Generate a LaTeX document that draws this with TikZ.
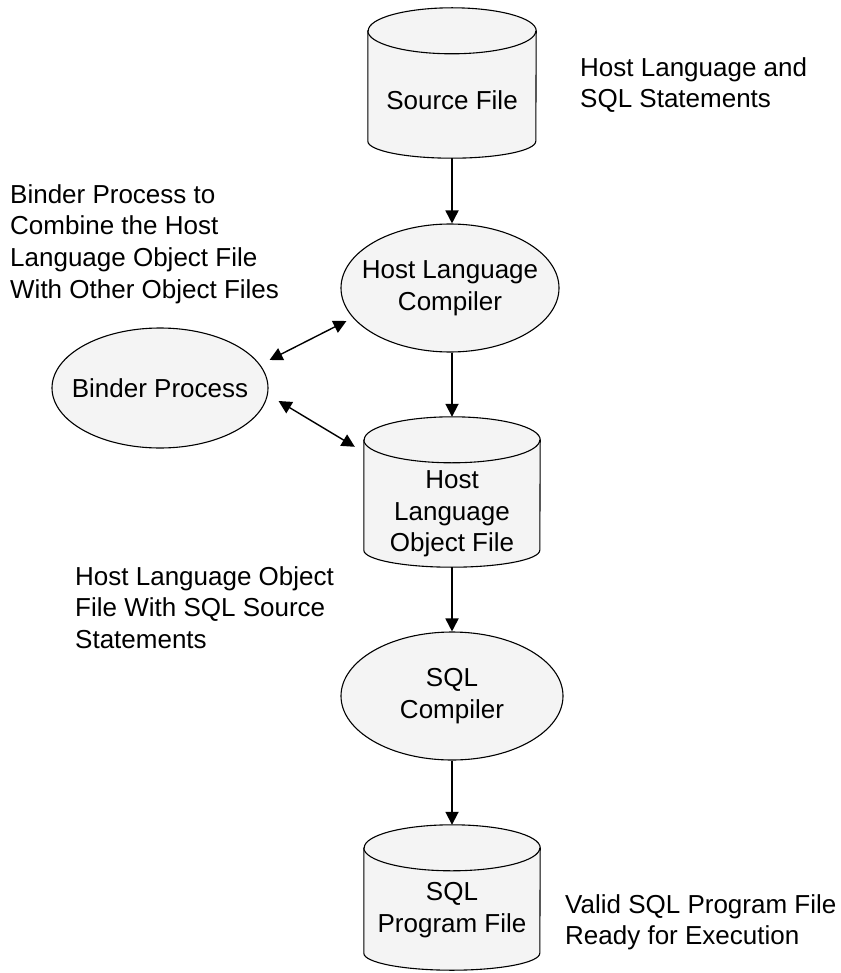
\documentclass[tikz,border=0pt]{standalone}
\usepackage{fontspec}
\setmainfont{Liberation Sans}
\usetikzlibrary{arrows.meta,shapes.geometric}
\definecolor{shapefill}{RGB}{244,244,244}
\tikzset{
  every node/.style={font=\fontsize{26}{31.7}\selectfont},
  proc/.style={ellipse, draw, line width=1.1pt, fill=shapefill, inner ysep=0pt,
    inner xsep=-20pt, align=center, minimum width=218pt, minimum height=128pt},
  store/.style={rectangle, draw=none, inner sep=0pt},
  storetext/.style={inner sep=0pt, align=center},
  caption/.style={anchor=north west, inner sep=0pt, align=left},
  flow/.style={line width=1.8pt, -{Triangle[length=13pt,width=13pt]}},
  link/.style={line width=1.4pt,
    {Triangle[length=13pt,width=13pt]}-{Triangle[length=13pt,width=13pt]}},
  cylline/.style={draw, line width=1.1pt},
}
% #1 name, #2 centre x, #3 top y, #4 bottom y, #5 half width,
% #6 radius of the top ellipse, #7 radius of the bottom ellipse
\newcommand\cylinderat[7]{%
  \node[store, minimum width={2*#5pt}, minimum height={(#4-#3)*1pt}]
    (#1) at (#2,{(#3+#4)/2}) {};
  \path[cylline, fill=shapefill]
    ([yshift=-#6pt]#1.north west) -- ([yshift=#7pt]#1.south west)
    arc[start angle=180, end angle=360, x radius=#5pt, y radius=#7pt]
    -- ([yshift=-#6pt]#1.north east)
    arc[start angle=0, end angle=180, x radius=#5pt, y radius=#6pt] -- cycle;
  \draw[cylline] ([yshift=-#6pt]#1.north west)
    arc[start angle=180, end angle=360, x radius=#5pt, y radius=#6pt];
}
\begin{document}
\begin{tikzpicture}[x=1pt, y=-1pt]
  \useasboundingbox (0,0) rectangle (840,973);

  % storage cylinders
  \cylinderat{src}{452}{8}{158}{84}{23}{17}
  \node[storetext] (srctext) at (452,100) {Source File};

  \cylinderat{obj}{452}{417}{567}{88}{23}{17}
  \node[storetext] (objtext) at (452,514) {Host\\Language\\Object File};

  \cylinderat{prg}{452}{825}{970}{88}{23}{17}
  \node[storetext] (prgtext) at (452,910) {SQL\\Program File};

  % processes
  \node[proc] (hlc) at (450,288)
    {\fontsize{26}{33}\selectfont Host Language\\Compiler};
  \node[proc, minimum width=222pt] (sqlc) at (452,696) {SQL\\Compiler};
  \node[proc, minimum width=216pt, minimum height=120pt] (binder) at (160,388)
    {Binder Process};

  % main flow
  \draw[flow] (src.south) -- (src.south |- hlc.north);
  \draw[flow] (src.south |- hlc.south) -- (obj.north);
  \draw[flow] (obj.south) -- (sqlc.north);
  \draw[flow] (sqlc.south) -- (prg.north);

  % binder links
  \draw[link] ([xshift=1pt, yshift=28pt]binder.east)
    -- ([xshift=6pt, yshift=-33pt]hlc.west);
  \draw[link] ([xshift=10pt, yshift=-13pt]binder.east)
    -- ([xshift=-9pt, yshift=-30pt]obj.north west);

  % annotations
  \node[caption] (notesrc) at (580,57) {Host Language and\\SQL Statements};
  \node[caption] (notebinder) at (10,184)
    {Binder Process to\\Combine the Host\\Language Object File\\With Other Object Files};
  \node[caption] (noteobj) at (75,566)
    {Host Language Object\\File With SQL Source\\Statements};
  \node[caption] (noteprg) at (565,894)
    {Valid SQL Program File\\Ready for Execution};
\end{tikzpicture}
\end{document}
